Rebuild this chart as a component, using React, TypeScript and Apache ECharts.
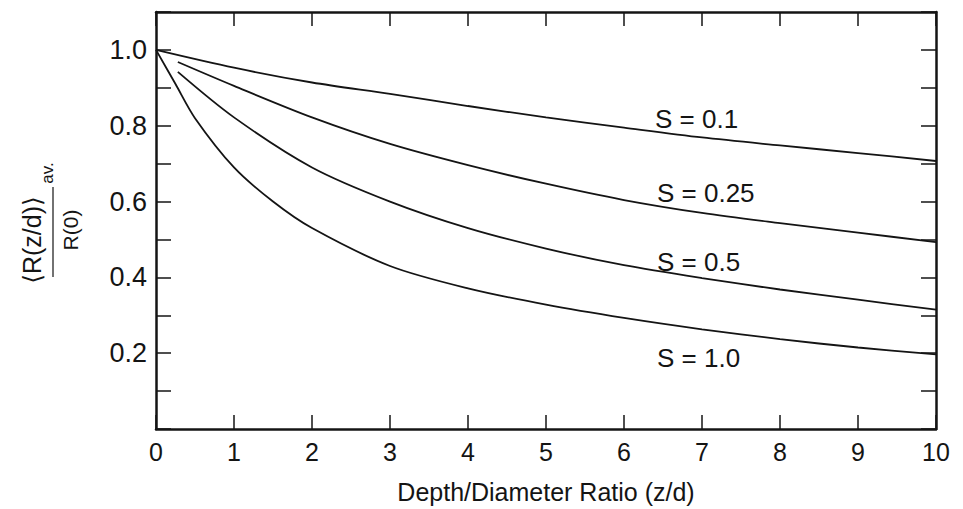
import React, { useEffect, useRef } from "react";
import * as echarts from "echarts";

// Depth/diameter ratio z/d and normalised average response for each S
const s01: [number, number][] = [
  [0, 1.0], [1, 0.953], [2, 0.914], [3, 0.884], [4, 0.852], [5, 0.822],
  [6, 0.795], [7, 0.769], [8, 0.748], [9, 0.728], [10, 0.707],
];
const s025: [number, number][] = [
  [0.28, 0.968], [1, 0.905], [2, 0.822], [3, 0.752], [4, 0.696], [5, 0.647],
  [6, 0.604], [7, 0.57], [8, 0.543], [9, 0.518], [10, 0.493],
];
const s05: [number, number][] = [
  [0.28, 0.942], [1, 0.822], [2, 0.69], [3, 0.6], [4, 0.53], [5, 0.476],
  [6, 0.432], [7, 0.398], [8, 0.368], [9, 0.341], [10, 0.315],
];
const s10: [number, number][] = [
  [0, 1.0], [0.25, 0.91], [0.5, 0.82], [1, 0.69], [1.5, 0.6], [2, 0.53],
  [3, 0.43], [4, 0.371], [5, 0.328], [6, 0.293], [7, 0.263], [8, 0.237],
  [9, 0.215], [10, 0.197],
];

const seriesNames = ["S = 0.1", "S = 0.25", "S = 0.5", "S = 1.0"];
const seriesData = [s01, s025, s05, s10];

const xTitle = "Depth/Diameter Ratio (z/d)";
const yNumerator = "\u27E8R(z/d)\u27E9";
const ySub = "av.";
const yDenominator = "R(0)";

const FONT = "'Liberation Sans', 'DejaVu Sans', Arial, sans-serif";
const INK = "#141414";

export default function App() {
  const ref = useRef<HTMLDivElement>(null);

  useEffect(() => {
    if (!ref.current) return;
    const chart = echarts.init(ref.current, null, { renderer: "svg" });

    const frameLine = { show: true, onZero: false, lineStyle: { color: INK, width: 2.5 } };
    const tickStyle = { lineStyle: { color: INK, width: 1.5 } };
    const yLabel = (v: number) => {
      const r = Math.round(v * 10);
      return r > 0 && r <= 10 && r % 2 === 0 ? (r / 10).toFixed(1) : "";
    };

    chart.setOption({
      animation: false,
      backgroundColor: "#ffffff",
      grid: { left: 156, right: 27, top: 12, bottom: 77 },
      xAxis: [
        {
          type: "value",
          min: 0,
          max: 10,
          interval: 1,
          position: "bottom",
          axisLine: frameLine,
          axisTick: { show: true, inside: true, length: 14, ...tickStyle },
          splitLine: { show: false },
          axisLabel: {
            color: INK,
            fontFamily: FONT,
            fontSize: 25,
            margin: 10,
          },
          name: xTitle,
          nameLocation: "middle",
          nameGap: 50,
          nameTextStyle: { color: INK, fontFamily: FONT, fontSize: 25 },
        },
        {
          type: "value",
          min: 0,
          max: 10,
          interval: 1,
          position: "top",
          axisLine: frameLine,
          axisTick: { show: true, inside: true, length: 14, ...tickStyle },
          splitLine: { show: false },
          axisLabel: { show: false },
        },
      ],
      yAxis: [
        {
          type: "value",
          min: 0,
          max: 1.1,
          interval: 0.1,
          position: "left",
          axisLine: frameLine,
          axisTick: { show: true, inside: true, length: 15, ...tickStyle },
          splitLine: { show: false },
          axisLabel: {
            color: INK,
            fontFamily: FONT,
            fontSize: 27,
            margin: 9,
            formatter: yLabel,
          },
        },
        {
          type: "value",
          min: 0,
          max: 1.1,
          interval: 0.1,
          position: "right",
          axisLine: frameLine,
          axisTick: { show: true, inside: true, length: 15, ...tickStyle },
          splitLine: { show: false },
          axisLabel: { show: false },
        },
      ],
      series: seriesData.map((d, i) => ({
        name: seriesNames[i],
        type: "line",
        data: d,
        smooth: 0.3,
        showSymbol: false,
        symbol: "none",
        lineStyle: { color: INK, width: 1.8 },
        xAxisIndex: 0,
        yAxisIndex: 0,
      })),
      graphic: [
        // curve labels
        ...[
          { x: 655, y: 119 },
          { x: 657, y: 193 },
          { x: 657, y: 262 },
          { x: 657, y: 358 },
        ].map((p, i) => ({
          type: "text",
          x: p.x,
          y: p.y,
          style: {
            text: seriesNames[i],
            fill: INK,
            font: `26px ${FONT}`,
            textAlign: "left",
            textVerticalAlign: "middle",
          },
        })),
        // rotated fraction for the vertical axis title
        {
          type: "group",
          x: 50,
          y: 220,
          rotation: Math.PI / 2,
          children: [
            {
              type: "text",
              x: -20,
              y: -18,
              style: {
                text: yNumerator,
                fill: INK,
                font: `25px ${FONT}`,
                textAlign: "center",
                textVerticalAlign: "middle",
              },
            },
            {
              type: "text",
              x: 47,
              y: -3,
              style: {
                text: ySub,
                fill: INK,
                font: `17px ${FONT}`,
                textAlign: "center",
                textVerticalAlign: "middle",
              },
            },
            {
              type: "line",
              shape: { x1: -57, y1: 3, x2: 33, y2: 3 },
              style: { stroke: INK, lineWidth: 1.2 },
            },
            {
              type: "text",
              x: -10,
              y: 20,
              style: {
                text: yDenominator,
                fill: INK,
                font: `21px ${FONT}`,
                textAlign: "center",
                textVerticalAlign: "middle",
              },
            },
          ],
        },
      ],
    });

    return () => chart.dispose();
  }, []);

  return (
    <div
      ref={ref}
      style={{ position: "fixed", left: 0, top: 0, width: 963, height: 509 }}
    />
  );
}
